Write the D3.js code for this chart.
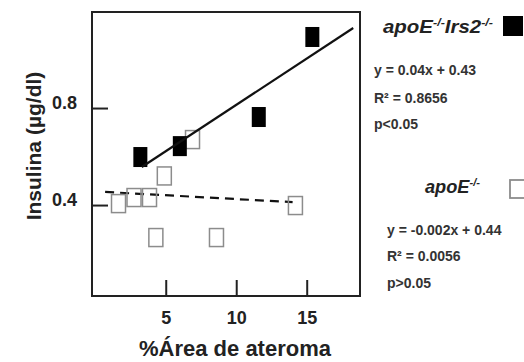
<!DOCTYPE html>
<html lang="es">
<head>
<meta charset="utf-8"/>
<style>
body { margin: 0; background: #fff; }
svg { display: block; font-family: "Liberation Sans", Arial, sans-serif; }
.axis .domain { display: none; }
.axis line { stroke: #222; stroke-width: 2; }
.axis text { font-size: 18px; font-weight: bold; fill: #222; }
</style>
</head>
<body>
<svg width="524" height="362"></svg>
<script src="https://d3js.org/d3.v7.min.js"></script>
<script>

// apoE-/-Irs2-/- (filled squares)
var koX = [3.2, 6.0, 11.6, 15.4];
var koY = [0.598, 0.643, 0.763, 1.093];
// apoE-/- (open squares)
var ctlX = [1.65, 2.75, 3.85, 4.9, 6.9, 4.3, 8.6, 14.2];
var ctlY = [0.406, 0.431, 0.431, 0.52, 0.67, 0.266, 0.266, 0.398];
// regression lines, as drawn (end points)
var koFitX = [3.3, 18.3], koFitY = [0.557, 1.13];
var ctlFitX = [0.7, 14.0], ctlFitY = [0.454, 0.412];

var xTicks = [5, 10, 15];
var yTicks = [0.4, 0.8];

var svg = d3.select("svg");

var x = d3.scaleLinear().domain([-0.23, 18.78]).range([92, 360]);
var y = d3.scaleLinear().domain([0.025, 1.196]).range([296, 12]);

// frame
svg.append("rect")
  .attr("x", x.range()[0]).attr("y", y.range()[1])
  .attr("width", x.range()[1] - x.range()[0])
  .attr("height", y.range()[0] - y.range()[1])
  .attr("fill", "none").attr("stroke", "#222").attr("stroke-width", 2);

// axes, ticks point inward
svg.append("g")
  .attr("class", "axis")
  .attr("transform", "translate(0," + y.range()[0] + ")")
  .call(d3.axisBottom(x).tickValues(xTicks).tickSizeInner(-16).tickSizeOuter(0).tickPadding(15));

svg.append("g")
  .attr("class", "axis")
  .attr("transform", "translate(" + x.range()[0] + ",0)")
  .call(d3.axisLeft(y).tickValues(yTicks).tickFormat(d3.format(".1f")).tickSizeInner(-16).tickSizeOuter(0).tickPadding(15))
  .selectAll("text").attr("dy", "0.05em");

// fit lines
var line = d3.line().x(function(d) { return x(d[0]); }).y(function(d) { return y(d[1]); });

svg.append("path")
  .datum(d3.zip(ctlFitX, ctlFitY))
  .attr("d", line)
  .attr("fill", "none").attr("stroke", "#111").attr("stroke-width", 2.2)
  .attr("stroke-dasharray", "9,6");

// open squares
svg.append("g").selectAll("rect")
  .data(d3.zip(ctlX, ctlY))
  .enter().append("rect")
  .attr("x", function(d) { return x(d[0]) - 7; })
  .attr("y", function(d) { return y(d[1]) - 9; })
  .attr("width", 14).attr("height", 18)
  .attr("fill", "none").attr("stroke", "#8c8c8c").attr("stroke-width", 1.5);

// filled squares
svg.append("g").selectAll("rect")
  .data(d3.zip(koX, koY))
  .enter().append("rect")
  .attr("x", function(d) { return x(d[0]) - 7; })
  .attr("y", function(d) { return y(d[1]) - 10; })
  .attr("width", 14).attr("height", 20)
  .attr("fill", "#000");

svg.append("path")
  .datum(d3.zip(koFitX, koFitY))
  .attr("d", line)
  .attr("fill", "none").attr("stroke", "#111").attr("stroke-width", 2.2);

// axis titles
svg.append("text")
  .attr("x", 235).attr("y", 356)
  .attr("text-anchor", "middle")
  .attr("font-size", 22).attr("font-weight", "bold").attr("fill", "#222")
  .text("%Área de ateroma");

svg.append("text")
  .attr("transform", "translate(41,146) rotate(-90)")
  .attr("text-anchor", "middle")
  .attr("font-size", 21).attr("font-weight", "bold").attr("fill", "#222")
  .text("Insulina (µg/dl)");

// legend
function groupName(xp, yp, len, parts) {
  var t = svg.append("text")
    .attr("x", xp).attr("y", yp)
    .attr("textLength", len).attr("lengthAdjust", "spacingAndGlyphs")
    .attr("font-size", 18).attr("font-weight", "bold").attr("font-style", "italic").attr("fill", "#222");
  parts.forEach(function(p) {
    var s = t.append("tspan").text(p[0]);
    if (p[1]) s.attr("font-size", 11).attr("baseline-shift", "7");
  });
}

function statLines(xp, ys, lines) {
  svg.append("g").selectAll("text")
    .data(lines)
    .enter().append("text")
    .attr("x", xp).attr("y", function(d, i) { return ys[i]; })
    .attr("font-size", 14).attr("font-weight", "bold").attr("fill", "#333")
    .text(function(d) { return d; });
}

groupName(383, 33, 110, [["apoE", false], ["-/-", true], ["Irs2", false], ["-/-", true]]);
svg.append("rect").attr("x", 503).attr("y", 16).attr("width", 20).attr("height", 20).attr("fill", "#000");
statLines(374, [75, 103, 129], ["y = 0.04x + 0.43", "R² = 0.8656", "p<0.05"]);

groupName(425, 193, 55, [["apoE", false], ["-/-", true]]);
svg.append("rect").attr("x", 510).attr("y", 180).attr("width", 20).attr("height", 18)
  .attr("fill", "none").attr("stroke", "#8c8c8c").attr("stroke-width", 1.8);
statLines(387, [235, 261, 288], ["y = -0.002x + 0.44", "R² = 0.0056", "p>0.05"]);

</script>
</body>
</html>
